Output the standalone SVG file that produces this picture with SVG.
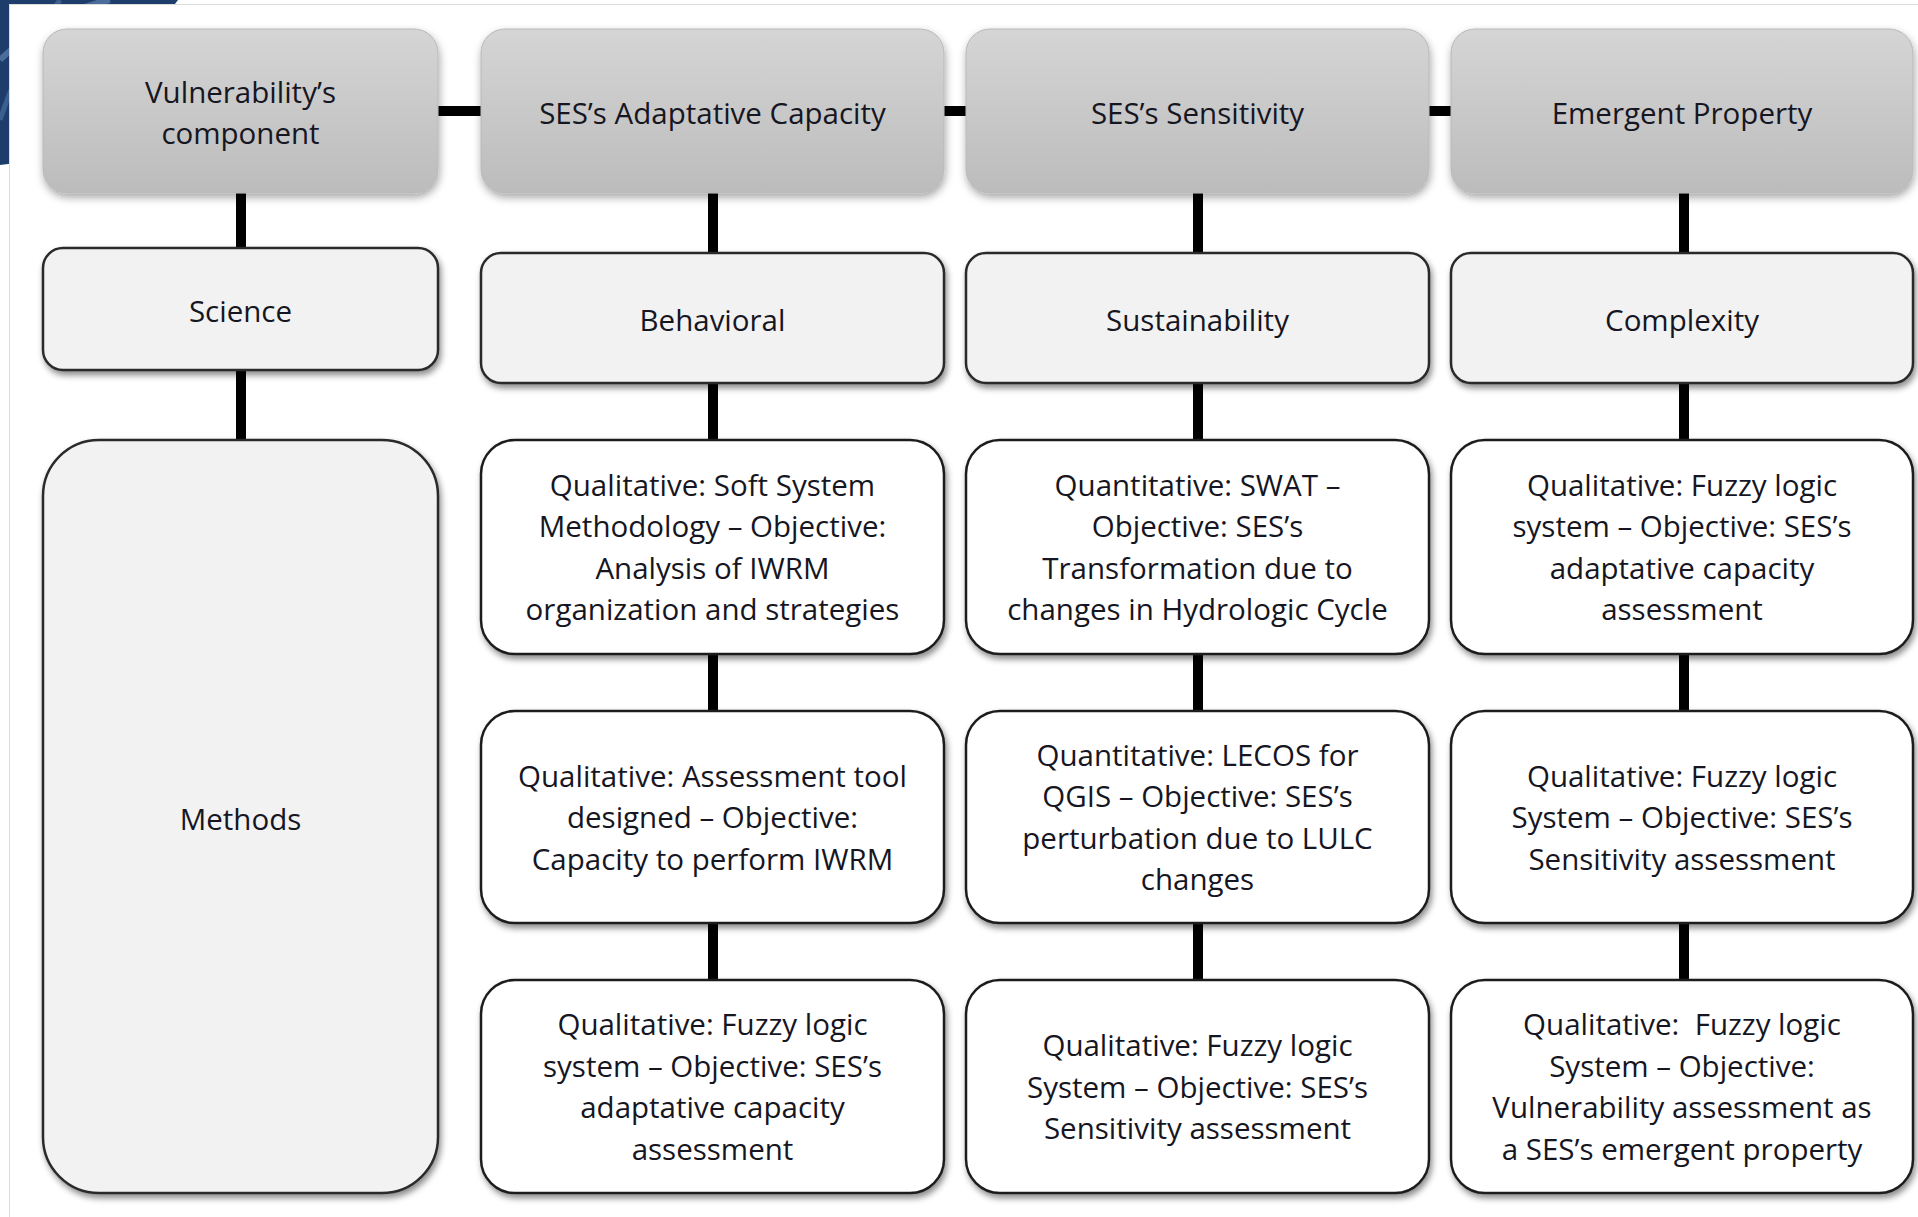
<svg xmlns="http://www.w3.org/2000/svg" width="1918" height="1217" viewBox="0 0 1918 1217">
  <defs>
    <linearGradient id="hdrFill" x1="0" y1="0" x2="0" y2="1">
      <stop offset="0" stop-color="#d5d5d5"/>
      <stop offset="1" stop-color="#bcbcbc"/>
    </linearGradient>
    <filter id="shadow" x="-10%" y="-10%" width="125%" height="130%">
      <feDropShadow dx="2" dy="4" stdDeviation="3" flood-color="#000" flood-opacity="0.45"/>
    </filter>
    <filter id="softShadow" x="-10%" y="-10%" width="125%" height="130%">
      <feDropShadow dx="1" dy="4" stdDeviation="4" flood-color="#000" flood-opacity="0.35"/>
    </filter>
  </defs>
  <style>
    .hdr { fill: url(#hdrFill); stroke: #b8b8b8; stroke-width: 1; filter: url(#softShadow); }
    .cat { fill: #f2f2f2; stroke: #2b2b2b; stroke-width: 2.5; filter: url(#shadow); }
    .mth { fill: #ffffff; stroke: #1e1e1e; stroke-width: 2.5; filter: url(#shadow); }
    .lbl { font-family: "Open Sans", "Noto Sans", "Liberation Sans", sans-serif; font-size: 29.5px; fill: #161622; text-anchor: middle; }
    .link { stroke: #000; stroke-width: 10; fill: none; }
  </style>

  <!-- page background and corner ornament -->
  <rect x="0" y="0" width="1918" height="1217" fill="#ffffff"/>
  <path d="M0 0 H178 C150 40 80 90 40 160 L0 165 Z" fill="#1e3d6b"/>
  <path d="M0 60 C20 40 60 10 110 0" stroke="#4a6d9c" stroke-width="6" fill="none"/>
  <path d="M0 120 C10 90 30 40 60 0" stroke="#3b5f8f" stroke-width="5" fill="none"/>
  <rect x="9.5" y="4.5" width="1920" height="1220" fill="#ffffff" stroke="#dcdcdc" stroke-width="1"/>

  <!-- connectors -->
  <g id="connectors">
    <line class="link" x1="436" y1="111" x2="483" y2="111"/>
    <line class="link" x1="942" y1="111" x2="968" y2="111"/>
    <line class="link" x1="1427" y1="111" x2="1453" y2="111"/>
    <line class="link" x1="241" y1="191" x2="241" y2="250"/>
    <line class="link" x1="241" y1="368" x2="241" y2="442"/>
    <line class="link" x1="713" y1="191" x2="713" y2="255"/>
    <line class="link" x1="713" y1="381" x2="713" y2="442"/>
    <line class="link" x1="713" y1="652" x2="713" y2="713"/>
    <line class="link" x1="713" y1="921" x2="713" y2="982"/>
    <line class="link" x1="1198" y1="191" x2="1198" y2="255"/>
    <line class="link" x1="1198" y1="381" x2="1198" y2="442"/>
    <line class="link" x1="1198" y1="652" x2="1198" y2="713"/>
    <line class="link" x1="1198" y1="921" x2="1198" y2="982"/>
    <line class="link" x1="1684" y1="191" x2="1684" y2="255"/>
    <line class="link" x1="1684" y1="381" x2="1684" y2="442"/>
    <line class="link" x1="1684" y1="652" x2="1684" y2="713"/>
    <line class="link" x1="1684" y1="921" x2="1684" y2="982"/>
  </g>

  <!-- header row -->
  <g id="hdr-vulnerability">
    <rect class="hdr" x="43" y="29" width="395" height="164" rx="24"/>
    <text class="lbl"><tspan x="240.5" y="103">Vulnerability’s</tspan><tspan x="240.5" y="144">component</tspan></text>
  </g>
  <g id="hdr-adaptive">
    <rect class="hdr" x="481" y="29" width="463" height="164" rx="24"/>
    <text class="lbl" x="712.5" y="124">SES’s Adaptative Capacity</text>
  </g>
  <g id="hdr-sensitivity">
    <rect class="hdr" x="966" y="29" width="463" height="164" rx="24"/>
    <text class="lbl" x="1197.5" y="124">SES’s Sensitivity</text>
  </g>
  <g id="hdr-emergent">
    <rect class="hdr" x="1451" y="29" width="462" height="164" rx="24"/>
    <text class="lbl" x="1682" y="124">Emergent Property</text>
  </g>

  <!-- science row -->
  <g id="science">
    <rect class="cat" x="43" y="248" width="395" height="122" rx="20"/>
    <text class="lbl" x="240.5" y="322">Science</text>
  </g>
  <g id="behavioral">
    <rect class="cat" x="481" y="253" width="463" height="130" rx="20"/>
    <text class="lbl" x="712.5" y="331">Behavioral</text>
  </g>
  <g id="sustainability">
    <rect class="cat" x="966" y="253" width="463" height="130" rx="20"/>
    <text class="lbl" x="1197.5" y="331">Sustainability</text>
  </g>
  <g id="complexity">
    <rect class="cat" x="1451" y="253" width="462" height="130" rx="20"/>
    <text class="lbl" x="1682" y="331">Complexity</text>
  </g>

  <!-- methods column -->
  <g id="methods">
    <rect class="cat" x="43" y="440" width="395" height="753" rx="56"/>
    <text class="lbl" x="240.5" y="830">Methods</text>
  </g>

  <!-- method boxes, row 1 -->
  <g id="m-adaptive-1">
    <rect class="mth" x="481" y="440" width="463" height="214" rx="34"/>
    <text class="lbl"><tspan x="712.5" y="496">Qualitative: Soft System</tspan><tspan x="712.5" y="537">Methodology – Objective:</tspan><tspan x="712.5" y="579">Analysis of IWRM</tspan><tspan x="712.5" y="620">organization and strategies</tspan></text>
  </g>
  <g id="m-sensitivity-1">
    <rect class="mth" x="966" y="440" width="463" height="214" rx="34"/>
    <text class="lbl"><tspan x="1197.5" y="496">Quantitative: SWAT –</tspan><tspan x="1197.5" y="537">Objective: SES’s</tspan><tspan x="1197.5" y="579">Transformation due to</tspan><tspan x="1197.5" y="620">changes in Hydrologic Cycle</tspan></text>
  </g>
  <g id="m-emergent-1">
    <rect class="mth" x="1451" y="440" width="462" height="214" rx="34"/>
    <text class="lbl"><tspan x="1682" y="496">Qualitative: Fuzzy logic</tspan><tspan x="1682" y="537">system – Objective: SES’s</tspan><tspan x="1682" y="579">adaptative capacity</tspan><tspan x="1682" y="620">assessment</tspan></text>
  </g>

  <!-- method boxes, row 2 -->
  <g id="m-adaptive-2">
    <rect class="mth" x="481" y="711" width="463" height="212" rx="34"/>
    <text class="lbl"><tspan x="712.5" y="787">Qualitative: Assessment tool</tspan><tspan x="712.5" y="828">designed – Objective:</tspan><tspan x="712.5" y="870">Capacity to perform IWRM</tspan></text>
  </g>
  <g id="m-sensitivity-2">
    <rect class="mth" x="966" y="711" width="463" height="212" rx="34"/>
    <text class="lbl"><tspan x="1197.5" y="766">Quantitative: LECOS for</tspan><tspan x="1197.5" y="807">QGIS – Objective: SES’s</tspan><tspan x="1197.5" y="849">perturbation due to LULC</tspan><tspan x="1197.5" y="890">changes</tspan></text>
  </g>
  <g id="m-emergent-2">
    <rect class="mth" x="1451" y="711" width="462" height="212" rx="34"/>
    <text class="lbl"><tspan x="1682" y="787">Qualitative: Fuzzy logic</tspan><tspan x="1682" y="828">System – Objective: SES’s</tspan><tspan x="1682" y="870">Sensitivity assessment</tspan></text>
  </g>

  <!-- method boxes, row 3 -->
  <g id="m-adaptive-3">
    <rect class="mth" x="481" y="980" width="463" height="213" rx="34"/>
    <text class="lbl"><tspan x="712.5" y="1035">Qualitative: Fuzzy logic</tspan><tspan x="712.5" y="1077">system – Objective: SES’s</tspan><tspan x="712.5" y="1118">adaptative capacity</tspan><tspan x="712.5" y="1160">assessment</tspan></text>
  </g>
  <g id="m-sensitivity-3">
    <rect class="mth" x="966" y="980" width="463" height="213" rx="34"/>
    <text class="lbl"><tspan x="1197.5" y="1056">Qualitative: Fuzzy logic</tspan><tspan x="1197.5" y="1098">System – Objective: SES’s</tspan><tspan x="1197.5" y="1139">Sensitivity assessment</tspan></text>
  </g>
  <g id="m-emergent-3">
    <rect class="mth" x="1451" y="980" width="462" height="213" rx="34"/>
    <text class="lbl" xml:space="preserve"><tspan x="1682" y="1035">Qualitative:  Fuzzy logic</tspan><tspan x="1682" y="1077">System – Objective:</tspan><tspan x="1682" y="1118">Vulnerability assessment as</tspan><tspan x="1682" y="1160">a SES’s emergent property</tspan></text>
  </g>
</svg>
